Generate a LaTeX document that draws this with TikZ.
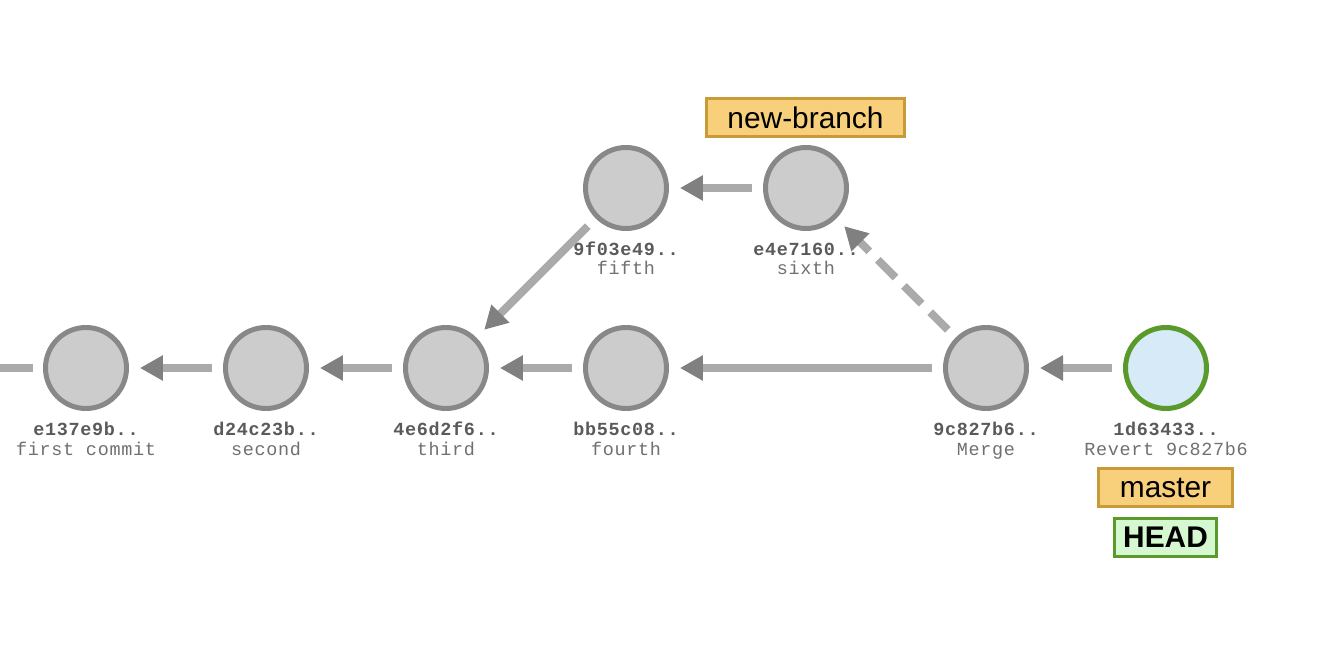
\documentclass[tikz,border=0pt]{standalone}
\usepackage{fontspec}
\setmainfont{Liberation Sans}
\newfontfamily\commitfont{Liberation Mono}[LetterSpace=3.8]
\usetikzlibrary{arrows.meta}

\definecolor{commitfill}{HTML}{CCCCCC}
\definecolor{commitline}{HTML}{888888}
\definecolor{headfill}{HTML}{D6EAF8}
\definecolor{headline}{HTML}{5A9A2A}
\definecolor{tagfill}{HTML}{F8CF7A}
\definecolor{tagline}{HTML}{C89B38}
\definecolor{headtagfill}{HTML}{D6F8D0}
\definecolor{linegray}{HTML}{AAAAAA}
\definecolor{tipgray}{HTML}{808080}
\definecolor{hashgray}{HTML}{5A5A5A}
\definecolor{msggray}{HTML}{707070}

\tikzset{
  commit/.style={circle, draw=commitline, fill=commitfill, line width=0.1cm,
    minimum size=1.62cm, inner sep=0pt},
  headcommit/.style={commit, draw=headline, fill=headfill},
  hashtext/.style={anchor=base, inner sep=0pt, text=hashgray,
    font=\commitfont\bfseries\fontsize{10.5}{12}\selectfont},
  msgtext/.style={anchor=base, inner sep=0pt, text=msggray,
    font=\commitfont\fontsize{10.5}{12}\selectfont},
  branchtag/.style={draw=tagline, fill=tagfill, line width=0.06cm,
    minimum height=0.76cm, inner xsep=0.42cm, inner ysep=0pt,
    font=\fontsize{17}{20}\selectfont},
  headtag/.style={branchtag, draw=headline, fill=headtagfill, inner xsep=0.17cm,
    font=\bfseries\fontsize{17}{20}\selectfont},
  parent/.style={draw=linegray, line width=0.16cm, shorten <=0.22cm, shorten >=0.22cm,
    -{Triangle[length=0.46cm,width=0.48cm,color=tipgray]}},
  mergeparent/.style={parent, dash pattern=on 0.5cm off 0.24cm},
}

\begin{document}
\begin{tikzpicture}[x=0.02cm, y=-0.02cm]
    \useasboundingbox[fill=white] (0,0) rectangle (1318,672);

    % Commits on master
    \node[commit] (c1) at (86,368) {};
    \node[commit] (c2) at (266,368) {};
    \node[commit] (c3) at (446,368) {};
    \node[commit] (c4) at (626,368) {};
    \node[commit] (c7) at (986,368) {};
    \node[headcommit] (c8) at (1166,368) {};

    % Commits on new-branch
    \node[commit] (c5) at (626,188) {};
    \node[commit] (c6) at (806,188) {};

    % Hashes and messages
    \node[hashtext] (c1h) at (86,435.5) {e137e9b..};
    \node[msgtext] (c1m) at (86,455) {first commit};
    \node[hashtext] (c2h) at (266,435.5) {d24c23b..};
    \node[msgtext] (c2m) at (266,455) {second};
    \node[hashtext] (c3h) at (446,435.5) {4e6d2f6..};
    \node[msgtext] (c3m) at (446,455) {third};
    \node[hashtext] (c4h) at (626,435.5) {bb55c08..};
    \node[msgtext] (c4m) at (626,455) {fourth};
    \node[hashtext] (c5h) at (626,255.5) {9f03e49..};
    \node[msgtext] (c5m) at (626,275) {fifth};
    \node[hashtext] (c6h) at (806,255.5) {e4e7160..};
    \node[msgtext] (c6m) at (806,275) {sixth};
    \node[hashtext] (c7h) at (986,435.5) {9c827b6..};
    \node[msgtext] (c7m) at (986,455) {Merge};
    \node[hashtext] (c8h) at (1166,435.5) {1d63433..};
    \node[msgtext] (c8m) at (1166,455) {Revert 9c827b6};

    % Branch tags
    \node[branchtag] (newbranch) at (805.5,117.5) {new-branch};
    \node[branchtag] (master) at (1165.5,487.5) {master};
    \node[headtag] (head) at (1165.5,537) {HEAD};

    % Parent links
    \coordinate (offleft) at (0,368);
    \draw[draw=linegray, line width=0.16cm, shorten <=0.21cm] (c1) -- (offleft);
    \draw[parent] (c2) -- (c1);
    \draw[parent] (c3) -- (c2);
    \draw[parent] (c4) -- (c3);
    \draw[parent] (c5) -- (c3);
    \draw[parent] (c6) -- (c5);
    \draw[parent] (c7) -- (c4);
    \draw[mergeparent] (c7) -- (c6);
    \draw[parent] (c8) -- (c7);
\end{tikzpicture}
\end{document}
